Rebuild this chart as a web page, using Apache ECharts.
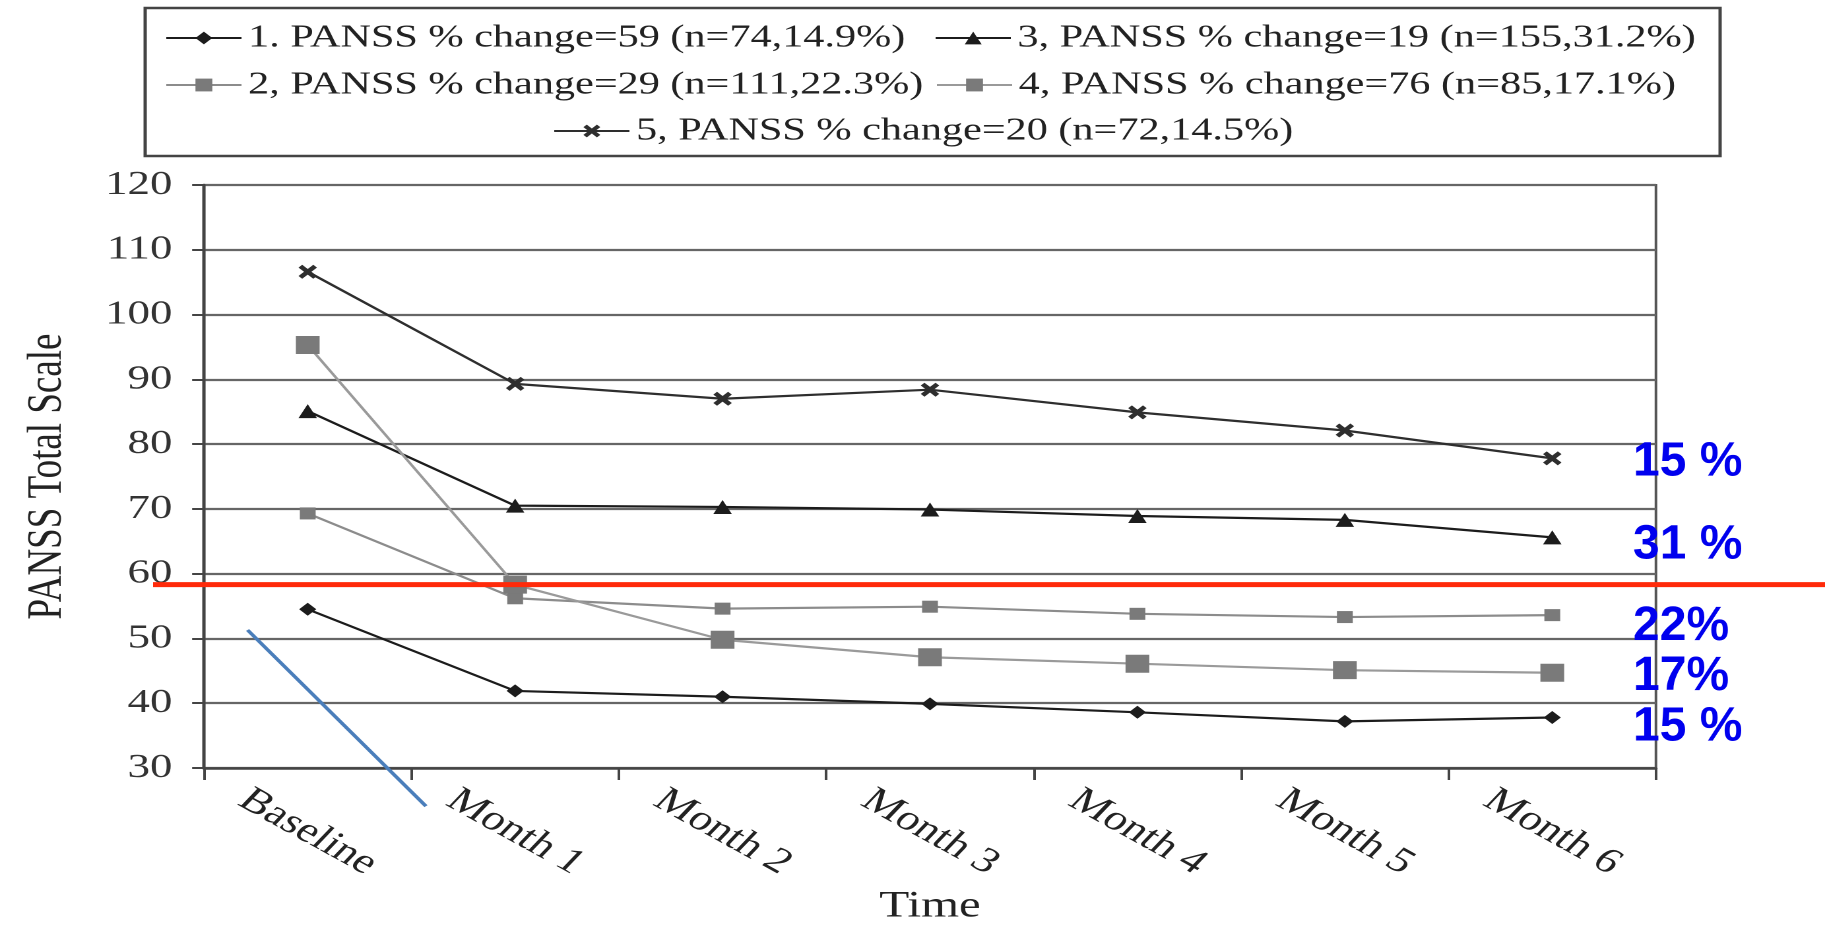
<!DOCTYPE html>
<html>
<head>
<meta charset="utf-8">
<title>PANSS Total Scale</title>
<script src="https://cdn.jsdelivr.net/npm/echarts@6/dist/echarts.min.js"></script>
<style>
  html, body { margin: 0; padding: 0; background: #fff; overflow: hidden; }
  /* the source figure is stretched sideways, so the chart is drawn narrow and widened */
  #myChart { width: 1383px; height: 927px; transform-origin: 0 0; }
</style>
</head>
<body>
<div id="myChart"></div>
<script>
const STRETCH = 1825 / 1383;

// x categories
const timePoints = ['Baseline', 'Month 1', 'Month 2', 'Month 3', 'Month 4', 'Month 5', 'Month 6'];
// y ticks
const yTicks = [30, 40, 50, 60, 70, 80, 90, 100, 110, 120];

// legend names
const groupNames = [
  '1. PANSS % change=59 (n=74,14.9%)',
  '2, PANSS % change=29 (n=111,22.3%)',
  '3, PANSS % change=19 (n=155,31.2%)',
  '4, PANSS % change=76 (n=85,17.1%)',
  '5, PANSS % change=20 (n=72,14.5%)',
];
// PANSS total per visit
const group1 = [54.5, 41.9, 41.0, 39.9, 38.6, 37.2, 37.8];
const group2 = [69.3, 56.2, 54.6, 54.9, 53.8, 53.3, 53.6];
const group3 = [85.1, 70.5, 70.3, 69.9, 68.9, 68.3, 65.6];
const group4 = [95.3, 58.3, 49.8, 47.1, 46.1, 45.1, 44.7];
const group5 = [106.6, 89.3, 87.0, 88.4, 84.9, 82.1, 77.8];

// hand-drawn notes on top of the figure
const noteTexts = ['15 %', '31 %', '22%', '17%', '15 %'];
const noteLevels = [77.2, 64.4, 51.8, 44.1, 36.3];
const cutoffLevel = 58.3;
// [category position, value] of the two ends of the blue slash
const slashEnds = [[-0.29, 51.3], [0.57, 24.1]];

const chartDom = document.getElementById('myChart');
chartDom.style.transform = 'scaleX(' + STRETCH + ')';
const myChart = echarts.init(chartDom, null, { devicePixelRatio: 2 });

const serif = 'Liberation Serif';
const xMark = 'path://M0,2L2,0L5,3L8,0L10,2L7,5L10,8L8,10L5,7L2,10L0,8L3,5Z';

function makeLegend(name, left, top) {
  return {
    data: [name],
    left: left,
    top: top,
    padding: 0,
    itemWidth: 57,
    itemHeight: 16,
    itemGap: 0,
    selectedMode: false,
    textStyle: { fontFamily: serif, fontSize: 32, color: '#222' },
  };
}

function makeSeries(name, data, lineColor, markColor, symbol, size) {
  return {
    name: name,
    type: 'line',
    data: data,
    symbol: symbol,
    symbolSize: size,
    showSymbol: true,
    lineStyle: { color: lineColor, width: 2.2 },
    itemStyle: { color: markColor },
    emphasis: { disabled: true },
  };
}

myChart.setOption({
  animation: false,
  backgroundColor: '#fff',
  textStyle: { fontFamily: serif },
  grid: {
    left: 154.6,
    right: 128.1,
    top: 185,
    bottom: 159,
    show: true,
    borderColor: '#555',
    borderWidth: 2,
    containLabel: false,
    outerBoundsMode: 'none',
  },
  legend: [
    makeLegend(groupNames[0], 125, 22),
    makeLegend(groupNames[2], 708, 22),
    makeLegend(groupNames[1], 125, 69),
    makeLegend(groupNames[3], 709, 69),
    makeLegend(groupNames[4], 419, 115),
  ],
  xAxis: {
    type: 'category',
    data: timePoints,
    boundaryGap: true,
    name: 'Time',
    nameLocation: 'middle',
    nameGap: 120,
    nameTextStyle: { fontFamily: serif, fontSize: 37, color: '#222' },
    axisLine: { lineStyle: { color: '#444', width: 2.5 } },
    axisTick: { show: true, alignWithLabel: false, length: 12, lineStyle: { color: '#444', width: 2 } },
    axisLabel: {
      interval: 0,
      rotate: -36,
      align: 'center',
      verticalAlign: 'middle',
      margin: 64,
      fontFamily: serif,
      fontSize: 35,
      color: '#222',
    },
    splitLine: { show: false },
  },
  yAxis: {
    type: 'value',
    min: yTicks[0],
    max: yTicks[yTicks.length - 1],
    interval: yTicks[1] - yTicks[0],
    name: 'PANSS Total Scale',
    nameLocation: 'middle',
    nameRotate: 90,
    nameGap: 100,
    nameTextStyle: { fontFamily: serif, fontSize: 37, color: '#222' },
    axisLine: { show: true, lineStyle: { color: '#444', width: 2.5 } },
    axisTick: { show: true, length: 9, lineStyle: { color: '#444', width: 2 } },
    axisLabel: { margin: 24, fontFamily: serif, fontSize: 34, color: '#333' },
    splitLine: { show: true, lineStyle: { color: '#666', width: 2.2 } },
  },
  series: [
    makeSeries(groupNames[0], group1, '#1c1c1c', '#1c1c1c', 'diamond', 13),
    makeSeries(groupNames[1], group2, '#8c8c8c', '#7a7a7a', 'rect', 12),
    makeSeries(groupNames[2], group3, '#1c1c1c', '#1c1c1c', 'triangle', 14),
    makeSeries(groupNames[3], group4, '#9a9a9a', '#7a7a7a', 'rect', 18),
    makeSeries(groupNames[4], group5, '#2e2e2e', '#2e2e2e', xMark, 14),
  ],
});

// notes, placed through the chart's own scales
function drawNotes() {
  const toPx = (cat, val) => myChart.convertToPixel({ gridIndex: 0 }, [cat, val]);
  const yOf = (v) => toPx(0, v)[1];
  const x0 = toPx(0, yTicks[0])[0];
  const x1 = toPx(1, yTicks[0])[0];
  const xOf = (f) => x0 + (x1 - x0) * f;

  const graphic = [
    {
      type: 'rect',
      shape: { x: 110, y: 8, width: 1193.5, height: 148 },
      style: { fill: 'none', stroke: '#444', lineWidth: 2.5 },
      z: 50,
    },
    {
      type: 'line',
      shape: { x1: 116, y1: yOf(cutoffLevel), x2: 1383, y2: yOf(cutoffLevel) },
      style: { stroke: '#ff2a0a', lineWidth: 5 },
      z: 100,
    },
    {
      type: 'line',
      shape: {
        x1: xOf(slashEnds[0][0]), y1: yOf(slashEnds[0][1]),
        x2: xOf(slashEnds[1][0]), y2: yOf(slashEnds[1][1]),
      },
      style: { stroke: '#4a7ebb', lineWidth: 3 },
      z: 100,
    },
  ];
  noteTexts.forEach((t, i) => {
    graphic.push({
      type: 'text',
      x: 1237.5,
      y: yOf(noteLevels[i]),
      scaleX: 1 / STRETCH,
      z: 100,
      style: {
        text: t,
        fill: '#0000ee',
        font: 'bold 48px "Liberation Sans", Arial, sans-serif',
        align: 'left',
        verticalAlign: 'middle',
        textAlign: 'left',
        textVerticalAlign: 'middle',
      },
    });
  });
  myChart.setOption({ graphic: graphic });
}
drawNotes();
</script>
</body>
</html>
